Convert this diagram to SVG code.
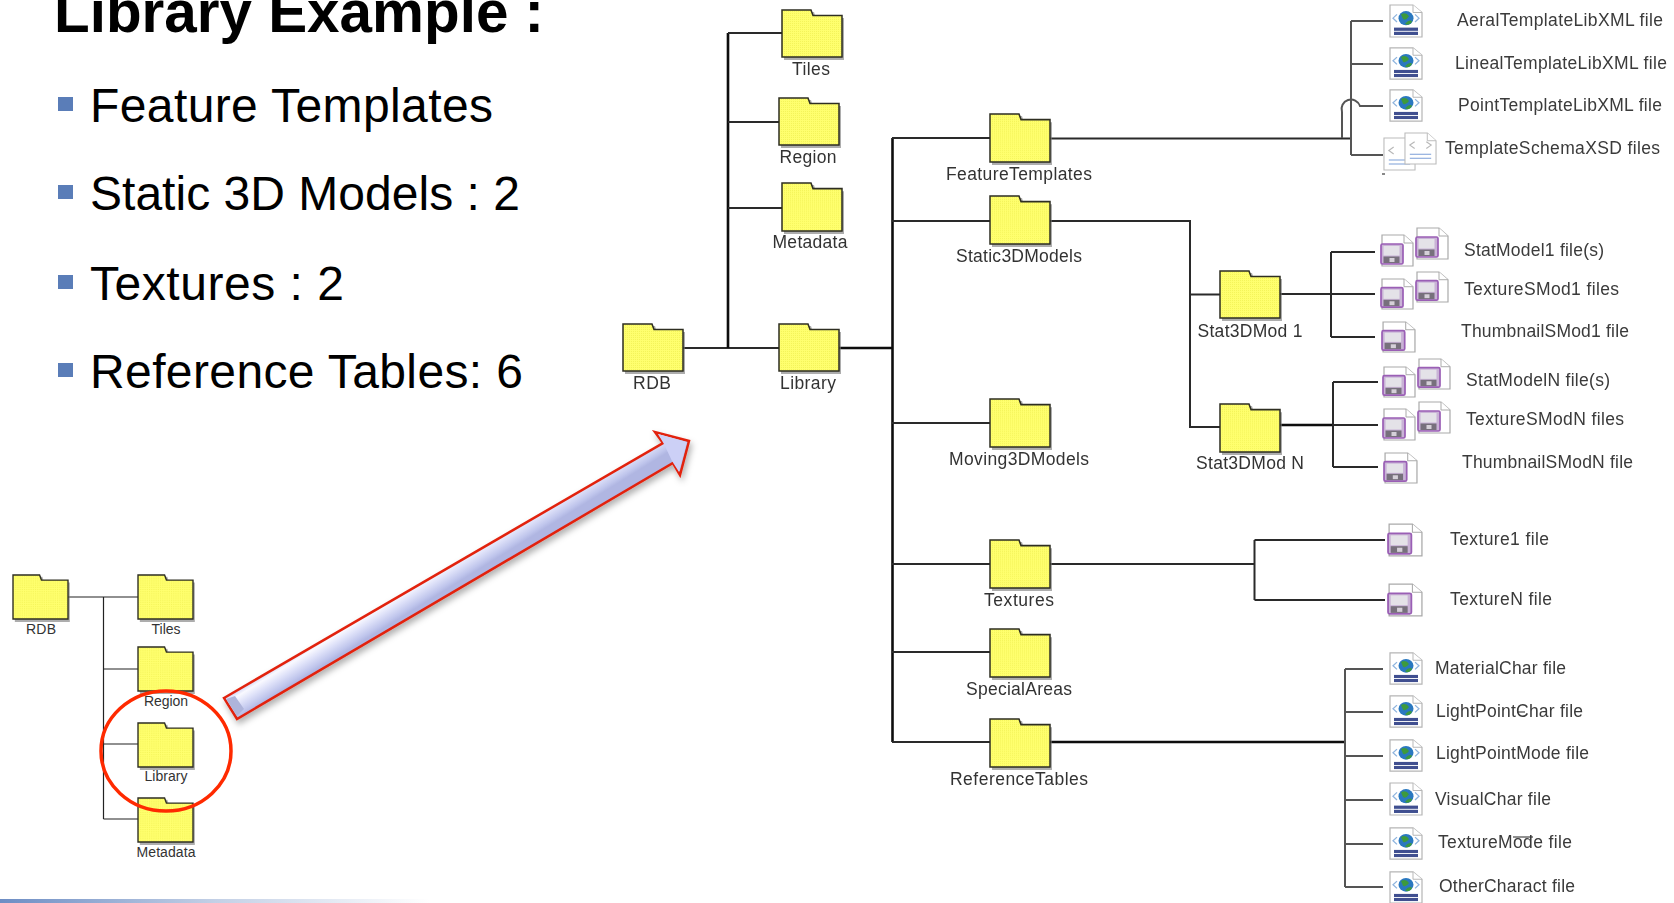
<svg xmlns="http://www.w3.org/2000/svg" width="1674" height="903" viewBox="0 0 1674 903">
<style>
text{font-family:"Liberation Sans",Arial,sans-serif}
.title{font-size:58.4px;font-weight:bold;fill:#000}
.bul{font-size:48px;fill:#000}
.lbl{font-size:17.5px;fill:#333;text-anchor:middle}
.sm{font-size:14px;fill:#333;text-anchor:middle}
.file{font-size:17.5px;fill:#3a3a3a}
.c{fill:none;stroke:#2b2b2b;stroke-width:2}
.c2{fill:none;stroke:#111;stroke-width:2.6}
.c3{fill:none;stroke:#555;stroke-width:2}
.thin{fill:none;stroke:#222;stroke-width:1.2}
.bullet{fill:#5a7db8}
</style>
<defs>
<pattern id="dith" width="2" height="2" patternUnits="userSpaceOnUse"><rect width="2" height="2" fill="#ffff6e"/><rect width="1" height="1" fill="#f4f45a"/></pattern>
<filter id="soft" x="-2%" y="-2%" width="104%" height="104%"><feGaussianBlur stdDeviation="0.55"/></filter>
<filter id="shadow" x="-5%" y="-5%" width="110%" height="115%"><feDropShadow dx="2" dy="4" stdDeviation="3" flood-color="#000" flood-opacity="0.3"/></filter>
<linearGradient id="shaft" gradientUnits="userSpaceOnUse" x1="224" y1="698" x2="237" y2="719"><stop offset="0" stop-color="#cdd1f3"/><stop offset="0.22" stop-color="#f9f9ff"/><stop offset="0.5" stop-color="#dfe2f9"/><stop offset="0.85" stop-color="#bfc5ec"/><stop offset="1" stop-color="#b0b6e2"/></linearGradient>
<linearGradient id="bar"><stop offset="0" stop-color="#6d8dc4"/><stop offset="0.5" stop-color="#c3d0e6"/><stop offset="1" stop-color="#fff"/></linearGradient>
<symbol id="folder" viewBox="0 0 60 49" preserveAspectRatio="none" overflow="visible">
<path d="M2 3H32L34 9H62V51H2Z" fill="#777" opacity=".6"/>
<path d="M0 1H29L31 6.500H60V48H0Z" fill="url(#dith)" stroke="#2e2e22" stroke-width="1.500"/>
</symbol>
<symbol id="web" viewBox="0 0 34 36" preserveAspectRatio="none">
<path d="M1 1H24L33 9V35H1Z" fill="#fff" stroke="#b5b5b5" stroke-width="1.200"/>
<path d="M24 1V9H33" fill="#fff" stroke="#b5b5b5"/>
<path d="M8 11L4 15L8 19M26 11L30 15L26 19" fill="none" stroke="#8fb4de" stroke-width="1.300"/>
<circle cx="17" cy="15" r="7.500" fill="#2a78c0"/>
<path d="M12 11Q17 8 20 13Q17 18 14 16ZM16 21Q20 16 23 18Q22 22 18 22Z" fill="#3e9a3e"/>
<rect x="5" y="25" width="24" height="3.400" fill="#3f4f90"/><rect x="5" y="29.400" width="24" height="3.400" fill="#3f4f90"/>
</symbol>
<symbol id="disk" viewBox="0 0 34 33" preserveAspectRatio="none">
<path d="M2 1H24L33 9V32H2Z" fill="#fff" stroke="#aaa" stroke-width="1.200"/>
<path d="M24 1V9H33" fill="#fff" stroke="#aaa"/>
<rect x="1" y="10" width="22" height="20" rx="1.500" fill="#c9b3d6" stroke="#9a5fb5" stroke-width="1.700"/>
<rect x="3.500" y="12" width="16" height="9.500" fill="#e4e2e8"/>
<rect x="3.500" y="22.500" width="16" height="6.500" fill="#77707c"/>
<rect x="9.500" y="24" width="5" height="4" fill="#d5d0d8"/>
</symbol>
<symbol id="xsd" viewBox="0 0 34 34" preserveAspectRatio="none">
<path d="M1 1H24L33 9V33H1Z" fill="#fff" stroke="#bbb" stroke-width="1.100"/>
<path d="M24 1V9H33" fill="#fff" stroke="#bbb"/>
<path d="M11 10L6 13.500L11 17M23 10L28 13.500L23 17" fill="none" stroke="#b8b8b8" stroke-width="1.200"/>
<path d="M6 23H28M6 27H28" stroke="#7c9fd8" stroke-width="1.100"/>
</symbol>
</defs>

<rect width="1674" height="903" fill="#fff"/>
<rect x="0" y="899" width="430" height="4" fill="url(#bar)"/>

<g id="slide-text">
<text class="title" x="54" y="32">Library Example :</text>
<rect class="bullet" x="58" y="97" width="15" height="14"/><text class="bul" x="90" y="122" textLength="403">Feature Templates</text>
<rect class="bullet" x="58" y="185" width="15" height="14"/><text class="bul" x="90" y="210" textLength="430">Static 3D Models : 2</text>
<rect class="bullet" x="58" y="275" width="15" height="14"/><text class="bul" x="90" y="300" textLength="254">Textures : 2</text>
<rect class="bullet" x="58" y="363" width="15" height="14"/><text class="bul" x="90" y="388" textLength="433">Reference Tables: 6</text>
</g>

<g id="small-connectors">
<path class="thin" d="M68 597H138M103.500 597V819M103.500 669H138M103.500 744H138M103.500 819H138"/>
</g>
<g id="small-rdb"><use href="#folder" x="13" y="574" width="55" height="46"/><text class="sm" x="41" y="634" textLength="30">RDB</text></g>
<g id="small-tiles"><use href="#folder" x="138" y="574" width="55" height="46"/><text class="sm" x="166" y="634" textLength="29">Tiles</text></g>
<g id="small-region"><use href="#folder" x="138" y="646" width="55" height="46"/><text class="sm" x="166" y="706" textLength="44">Region</text></g>
<g id="small-library"><use href="#folder" x="138" y="722" width="55" height="46"/><text class="sm" x="166" y="781" textLength="43">Library</text></g>
<g id="small-metadata"><use href="#folder" x="138" y="797" width="55" height="46"/><text class="sm" x="166" y="857" textLength="59">Metadata</text></g>
<ellipse id="highlight" cx="166" cy="751" rx="65" ry="60" fill="none" stroke="#ff2a00" stroke-width="3.500"/>

<g id="arrow">
<polygon points="224,698 663,443 655,432 689,441 680,475 673,463 237,719" fill="url(#shaft)" stroke="#e2230f" stroke-width="2.500" stroke-linejoin="miter" filter="url(#shadow)"/>
<polygon points="664,444 658,434 687,442 679,472 672,461" fill="#ccd0f6"/>
<polygon points="226,699 235,696 244,709 237,716" fill="#aeb4da"/>
</g>

<g id="diagram" filter="url(#soft)">
<g id="connectors">
<path class="c" d="M683 348H779"/>
<path class="c2" d="M728 348V33"/>
<path class="c" d="M728 33H782M728 122H779M728 208H782"/>
<path class="c2" d="M839 348H892M892.500 138V742"/>
<path class="c" d="M892 138H990M892 221H990M892 423H990M892 564H990M892 652H990M892 742H990"/>
<path class="c" d="M1050 138.500H1351"/>
<path class="c3" d="M1351 21V155M1351 21H1383M1351 64H1383M1351 155H1383"/>
<path class="c3" d="M1342 138V112A9 9 0 0 1 1360 106H1383"/>
<path class="c" d="M1050 221H1190V427H1220M1190 294.500H1220"/>
<path class="c" d="M1280 294H1375M1331 252V337M1331 252H1375M1331 337H1375"/>
<path class="c2" d="M1280 425H1333"/>
<path class="c" d="M1333 425H1378M1333 382V467M1333 382H1378M1333 467H1378"/>
<path class="c" d="M1050 564H1254.500M1254.500 540V600M1254.500 540H1385M1254.500 600H1385"/>
<path class="c2" d="M1050 742H1345"/>
<path class="c3" d="M1345 669V887M1345 669H1383M1345 712H1383M1345 756H1383M1345 800H1383M1345 844H1383M1345 887H1383"/>
<path class="thin" d="M1513 837H1533M1517 712H1525"/>
</g>

<g id="rdb"><use href="#folder" x="623" y="323" width="60" height="49"/><text class="lbl" x="652" y="389" textLength="38">RDB</text></g>
<g id="tiles"><use href="#folder" x="782" y="9" width="60" height="49"/><text class="lbl" x="811" y="75" textLength="38">Tiles</text></g>
<g id="region"><use href="#folder" x="779" y="97" width="60" height="49"/><text class="lbl" x="808" y="163" textLength="57">Region</text></g>
<g id="metadata"><use href="#folder" x="782" y="182" width="60" height="50"/><text class="lbl" x="810" y="248" textLength="75">Metadata</text></g>
<g id="library"><use href="#folder" x="779" y="323" width="60" height="49"/><text class="lbl" x="808" y="389" textLength="56">Library</text></g>
<g id="feature-templates"><use href="#folder" x="990" y="113" width="60" height="50"/><text class="lbl" x="1019" y="180" textLength="146">FeatureTemplates</text></g>
<g id="static3d"><use href="#folder" x="990" y="195" width="60" height="50"/><text class="lbl" x="1019" y="262" textLength="126">Static3DModels</text></g>
<g id="moving3d"><use href="#folder" x="990" y="398" width="60" height="50"/><text class="lbl" x="1019" y="465" textLength="140">Moving3DModels</text></g>
<g id="textures"><use href="#folder" x="990" y="539" width="60" height="50"/><text class="lbl" x="1019" y="606" textLength="70">Textures</text></g>
<g id="special-areas"><use href="#folder" x="990" y="628" width="60" height="50"/><text class="lbl" x="1019" y="695" textLength="106">SpecialAreas</text></g>
<g id="reference-tables"><use href="#folder" x="990" y="718" width="60" height="50"/><text class="lbl" x="1019" y="785" textLength="138">ReferenceTables</text></g>
<g id="stat3d-1"><use href="#folder" x="1220" y="270" width="60" height="49"/><text class="lbl" x="1250" y="337" textLength="105">Stat3DMod 1</text></g>
<g id="stat3d-n"><use href="#folder" x="1220" y="403" width="60" height="50"/><text class="lbl" x="1250" y="469" textLength="108">Stat3DMod N</text></g>

<g id="f-aeral"><use href="#web" x="1389" y="4" width="34" height="34"/><text class="file" x="1457" y="26" textLength="206">AeralTemplateLibXML file</text></g>
<g id="f-lineal"><use href="#web" x="1389" y="47" width="34" height="33"/><text class="file" x="1455" y="69" textLength="212">LinealTemplateLibXML file</text></g>
<g id="f-point"><use href="#web" x="1389" y="89" width="34" height="33"/><text class="file" x="1458" y="111" textLength="204">PointTemplateLibXML file</text></g>
<g id="f-xsd"><use href="#xsd" x="1383" y="137" width="33" height="34"/><use href="#xsd" x="1404" y="132" width="33" height="33"/><rect x="1382" y="173" width="3" height="2" fill="#888"/><text class="file" x="1445" y="154" textLength="215">TemplateSchemaXSD files</text></g>

<g id="f-statmodel1"><use href="#disk" x="1380" y="234" width="34" height="33"/><use href="#disk" x="1415" y="227" width="34" height="33"/><text class="file" x="1464" y="256" textLength="140">StatModel1 file(s)</text></g>
<g id="f-texsmod1"><use href="#disk" x="1380" y="278" width="34" height="32"/><use href="#disk" x="1415" y="271" width="34" height="32"/><text class="file" x="1464" y="295" textLength="155">TextureSMod1 files</text></g>
<g id="f-thumb1"><use href="#disk" x="1381" y="321" width="35" height="32"/><text class="file" x="1461" y="337" textLength="168">ThumbnailSMod1 file</text></g>
<g id="f-statmodeln"><use href="#disk" x="1382" y="366" width="34" height="32"/><use href="#disk" x="1417" y="358" width="34" height="32"/><text class="file" x="1466" y="386" textLength="144">StatModelN file(s)</text></g>
<g id="f-texsmodn"><use href="#disk" x="1382" y="408" width="34" height="33"/><use href="#disk" x="1417" y="401" width="34" height="33"/><text class="file" x="1466" y="425" textLength="158">TextureSModN files</text></g>
<g id="f-thumbn"><use href="#disk" x="1383" y="452" width="35" height="32"/><text class="file" x="1462" y="468" textLength="171">ThumbnailSModN file</text></g>

<g id="f-texture1"><use href="#disk" x="1387" y="523" width="36" height="34"/><text class="file" x="1450" y="545" textLength="99">Texture1 file</text></g>
<g id="f-texturen"><use href="#disk" x="1387" y="583" width="36" height="34"/><text class="file" x="1450" y="605" textLength="102">TextureN file</text></g>

<g id="f-material"><use href="#web" x="1389" y="652" width="34" height="33"/><text class="file" x="1435" y="674" textLength="131">MaterialChar file</text></g>
<g id="f-lpchar"><use href="#web" x="1389" y="695" width="34" height="33"/><text class="file" x="1436" y="717" textLength="147">LightPointChar file</text></g>
<g id="f-lpmode"><use href="#web" x="1389" y="739" width="34" height="33"/><text class="file" x="1436" y="759" textLength="153">LightPointMode file</text></g>
<g id="f-visual"><use href="#web" x="1389" y="782" width="34" height="34"/><text class="file" x="1435" y="805" textLength="116">VisualChar file</text></g>
<g id="f-texmode"><use href="#web" x="1389" y="827" width="34" height="33"/><text class="file" x="1438" y="848" textLength="134">TextureMode file</text></g>
<g id="f-other"><use href="#web" x="1389" y="871" width="34" height="33"/><text class="file" x="1439" y="892" textLength="136">OtherCharact file</text></g>
</g>
</svg>
